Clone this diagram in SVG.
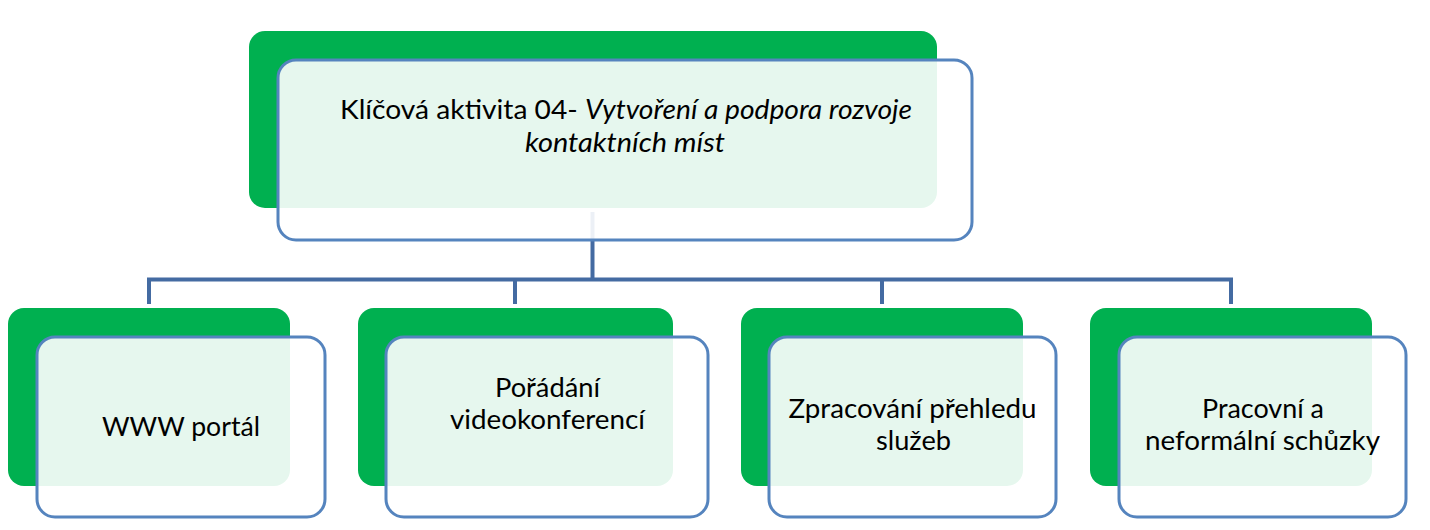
<svg xmlns="http://www.w3.org/2000/svg" width="1430" height="530" viewBox="0 0 1430 530">
  <style>
    .back { fill: #00b050; }
    .front { fill: #ffffff; fill-opacity: 0.9; stroke: #5584be; stroke-width: 3; }
    .conn { fill: none; stroke: #446ba2; stroke-width: 4; }
    .lbl { font-family: Lato, "Open Sans", sans-serif; font-size: 27.5px; fill: #000000; text-anchor: middle; }
    .it { font-style: italic; }
  </style>
  <rect width="1430" height="530" fill="#ffffff"/>
  <g id="back-shapes">
    <rect class="back" x="249" y="31" width="688" height="177" rx="16"/>
    <rect class="back" x="8" y="308" width="282" height="178" rx="16"/>
    <rect class="back" x="358" y="308" width="315" height="178" rx="16"/>
    <rect class="back" x="741" y="308" width="282" height="178" rx="16"/>
    <rect class="back" x="1090" y="308" width="282" height="178" rx="16"/>
  </g>
  <g id="connectors">
    <path class="conn" d="M592.5,212 V279.5"/>
    <path class="conn" d="M149,304 V279.5 H1231 V304"/>
    <path class="conn" d="M515,279.5 V304"/>
    <path class="conn" d="M882,279.5 V304"/>
  </g>
  <g id="node-top">
    <rect class="front" x="278" y="60" width="694" height="180" rx="18"/>
    <text class="lbl" x="626" y="119" textLength="572" lengthAdjust="spacingAndGlyphs">Klíčová aktivita 04- <tspan class="it">Vytvoření a podpora rozvoje</tspan></text>
    <text class="lbl it" x="625" y="152" textLength="200" lengthAdjust="spacingAndGlyphs">kontaktních míst</text>
  </g>
  <g id="node-www">
    <rect class="front" x="37" y="337" width="288" height="180" rx="18"/>
    <text class="lbl" x="181" y="436" textLength="158" lengthAdjust="spacingAndGlyphs">WWW portál</text>
  </g>
  <g id="node-video">
    <rect class="front" x="386" y="337" width="322" height="180" rx="18"/>
    <text class="lbl" x="547.5" y="397" textLength="105" lengthAdjust="spacingAndGlyphs">Pořádání</text>
    <text class="lbl" x="547.5" y="429" textLength="195" lengthAdjust="spacingAndGlyphs">videokonferencí</text>
  </g>
  <g id="node-sluzby">
    <rect class="front" x="769" y="337" width="287" height="180" rx="18"/>
    <text class="lbl" x="912.5" y="418" textLength="248" lengthAdjust="spacingAndGlyphs">Zpracování přehledu</text>
    <text class="lbl" x="913.5" y="450" textLength="75" lengthAdjust="spacingAndGlyphs">služeb</text>
  </g>
  <g id="node-schuzky">
    <rect class="front" x="1119" y="337" width="287" height="180" rx="18"/>
    <text class="lbl" x="1263" y="418" textLength="122" lengthAdjust="spacingAndGlyphs">Pracovní a</text>
    <text class="lbl" x="1262.5" y="450" textLength="235" lengthAdjust="spacingAndGlyphs">neformální schůzky</text>
  </g>
</svg>
